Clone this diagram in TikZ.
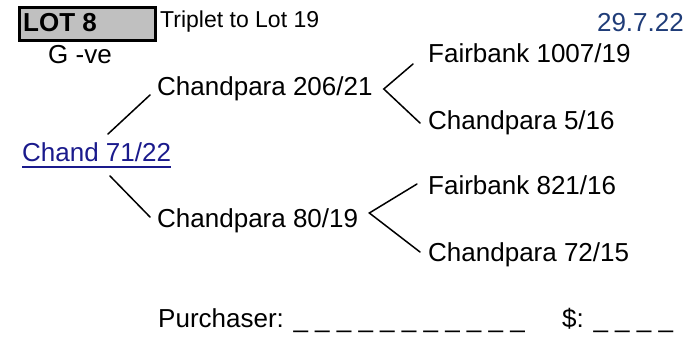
\documentclass[tikz,border=0pt]{standalone}
\usepackage{fontspec}
\setmainfont{Liberation Sans}
\definecolor{datecol}{HTML}{1F3C78}
\definecolor{linkcol}{HTML}{1A1A8C}
\definecolor{boxgrey}{HTML}{C0C0C0}
\begin{document}
\begin{tikzpicture}[x=1pt,y=1pt,
  lbl/.style={anchor=base west, inner sep=0pt, font=\fontsize{26}{30}\selectfont},
  small/.style={anchor=base west, inner sep=0pt, font=\fontsize{23}{27}\selectfont},
  conn/.style={line width=1.5pt, line cap=round},
  lotbox/.style={draw=black, fill=boxgrey, line width=3pt, inner sep=0pt, anchor=north west}]
\useasboundingbox (0,0) rectangle (696,-339);
% header
\node[lotbox, minimum width=136pt, minimum height=33.5pt] (box) at (17.5,-6) {};
\node[lbl, font=\fontsize{26}{30}\selectfont\bfseries] (lot) at (23,-31.5) {LOT 8};
\node[small] (trip) at (160,-28) {Triplet to Lot 19};
\node[lbl, anchor=base east, text=datecol] (date) at (684,-32) {29.7.22};
\node[lbl] (gve) at (48,-64) {G -ve};
% tree
\node[lbl, text=linkcol] (chand) at (22,-162) {Chand 71/22};
\draw[linkcol, line width=2pt] ([yshift=-5pt]chand.base west) -- ([yshift=-5pt]chand.base east);
\node[lbl] (c206) at (157,-96) {Chandpara 206/21};
\node[lbl] (c80) at (157,-228) {Chandpara 80/19};
\node[lbl] (fb1007) at (428,-63) {Fairbank 1007/19};
\node[lbl] (c516) at (428,-130) {Chandpara 5/16};
\node[lbl] (fb821) at (428,-195) {Fairbank 821/16};
\node[lbl] (c7215) at (428,-261) {Chandpara 72/15};
% connectors
\draw[conn] ([shift={(86,28)}]chand.base west) -- ([shift={(-7,1)}]c206.base west);
\draw[conn] ([shift={(88,-14)}]chand.base west) -- ([shift={(-7,11)}]c80.base west);
\draw[conn] ([shift={(-15,-1)}]fb1007.base west) -- ([shift={(11,7)}]c206.base east) -- ([shift={(-8,7)}]c516.base west);
\draw[conn] ([shift={(-11,11)}]fb821.base west) -- ([shift={(11,15)}]c80.base east) -- ([shift={(-8,9)}]c7215.base west);
% footer
\node[lbl] (purch) at (158,-327) {Purchaser: \_ \_ \_ \_ \_ \_ \_ \_ \_ \_ \_};
\node[lbl] (price) at (562,-327) {\$: \_ \_ \_ \_};
\end{tikzpicture}
\end{document}
